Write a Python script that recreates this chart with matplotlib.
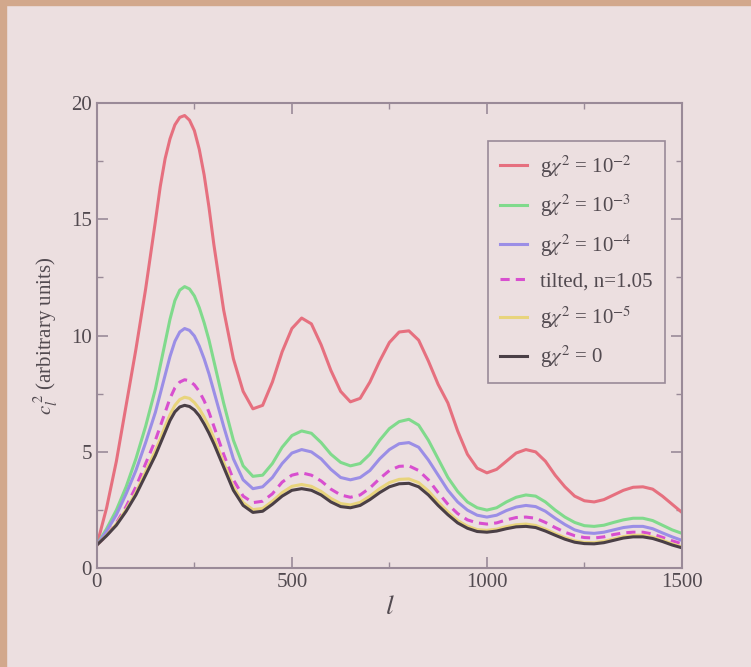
import matplotlib
matplotlib.use('Agg')
import matplotlib.pyplot as plt
from matplotlib.patches import Rectangle
from matplotlib.ticker import MultipleLocator

# multipole grid (finer around the first peak)
ell = ([0, 25, 50, 75, 100, 125, 150, 162.5, 175, 187.5, 200, 212.5, 225,
        237.5, 250, 262.5, 275, 287.5] + list(range(300, 1501, 25)))

# gchi^2 = 1e-2
red = [1.0, 2.6, 4.6, 7.0, 9.4, 12.0, 14.9, 16.4, 17.6, 18.45, 19.05, 19.37, 19.45,
       19.25, 18.8, 18.0, 16.9, 15.5,
       13.9, 11.1, 9.0, 7.6, 6.85, 7.0, 8.0, 9.3,
       10.3, 10.75, 10.5, 9.6, 8.5, 7.6, 7.15, 7.3, 8.0, 8.9,
       9.7, 10.15, 10.2, 9.8, 8.9, 7.9, 7.1, 5.9, 4.9, 4.3,
       4.1, 4.25, 4.6, 4.95, 5.1, 5.0, 4.6, 4.0, 3.5, 3.1,
       2.9, 2.85, 2.95, 3.15, 3.35, 3.48, 3.5, 3.4, 3.1, 2.75, 2.4]
# gchi^2 = 1e-3
green = [1.0, 1.7, 2.5, 3.5, 4.7, 6.1, 7.7, 8.7, 9.7, 10.7, 11.5, 11.95, 12.1,
         12.0, 11.7, 11.2, 10.55, 9.8,
         8.9, 7.1, 5.5, 4.4, 3.95, 4.0, 4.5, 5.2,
         5.7, 5.9, 5.8, 5.4, 4.9, 4.55, 4.4, 4.5, 4.9, 5.5,
         6.0, 6.3, 6.4, 6.15, 5.5, 4.7, 3.9, 3.3, 2.85, 2.6,
         2.5, 2.6, 2.85, 3.05, 3.15, 3.1, 2.85, 2.5, 2.2, 1.97,
         1.83, 1.8, 1.85, 1.97, 2.08, 2.15, 2.15, 2.05, 1.85, 1.65, 1.5]
# gchi^2 = 1e-4
blue = [1.0, 1.6, 2.3, 3.2, 4.2, 5.4, 6.7, 7.5, 8.3, 9.1, 9.75, 10.15, 10.3,
        10.22, 9.98, 9.55, 9.0, 8.35,
        7.6, 6.1, 4.7, 3.8, 3.42, 3.5, 3.9, 4.5,
        4.95, 5.1, 5.0, 4.7, 4.25, 3.9, 3.8, 3.9, 4.2, 4.7,
        5.1, 5.35, 5.4, 5.2, 4.65, 4.0, 3.35, 2.85, 2.5, 2.28,
        2.2, 2.28, 2.48, 2.63, 2.7, 2.65, 2.45, 2.15, 1.88, 1.65,
        1.53, 1.5, 1.55, 1.65, 1.75, 1.8, 1.8, 1.7, 1.52, 1.35, 1.2]
# tilted, n = 1.05
tilted = [1.0, 1.4, 1.95, 2.65, 3.5, 4.5, 5.5, 6.1, 6.7, 7.3, 7.75, 8.0, 8.1,
          8.05, 7.88, 7.6, 7.2, 6.7,
          6.1, 4.9, 3.8, 3.1, 2.82, 2.88, 3.2, 3.7,
          4.0, 4.1, 4.0, 3.75, 3.4, 3.15, 3.05, 3.15, 3.45, 3.85,
          4.2, 4.38, 4.4, 4.2, 3.8, 3.25, 2.75, 2.35, 2.08, 1.95,
          1.9, 1.95, 2.08, 2.18, 2.2, 2.15, 1.97, 1.75, 1.55, 1.4,
          1.32, 1.3, 1.35, 1.45, 1.52, 1.55, 1.55, 1.47, 1.33, 1.18, 1.05]
# gchi^2 = 1e-5
yellow = [1.0, 1.42, 1.9, 2.52, 3.25, 4.15, 5.05, 5.55, 6.1, 6.6, 7.0, 7.25, 7.35,
          7.3, 7.12, 6.85, 6.5, 6.08,
          5.6, 4.55, 3.5, 2.82, 2.52, 2.57, 2.88, 3.25,
          3.52, 3.6, 3.52, 3.3, 3.0, 2.78, 2.72, 2.83, 3.1, 3.42,
          3.68, 3.82, 3.84, 3.68, 3.32, 2.85, 2.42, 2.05, 1.81, 1.66,
          1.63, 1.68, 1.79, 1.87, 1.9, 1.84, 1.68, 1.49, 1.32, 1.18,
          1.11, 1.1, 1.16, 1.26, 1.36, 1.42, 1.42, 1.34, 1.21, 1.05, 0.92]
# gchi^2 = 0
black = [1.0, 1.4, 1.85, 2.45, 3.15, 4.0, 4.85, 5.35, 5.85, 6.35, 6.72, 6.93, 7.0,
         6.95, 6.8, 6.55, 6.2, 5.8,
         5.35, 4.35, 3.35, 2.7, 2.4, 2.45, 2.75, 3.1,
         3.35, 3.42, 3.35, 3.15, 2.85, 2.65, 2.6, 2.7, 2.95, 3.25,
         3.5, 3.63, 3.65, 3.5, 3.15, 2.7, 2.3, 1.95, 1.72, 1.58,
         1.55, 1.6, 1.7, 1.78, 1.8, 1.75, 1.6, 1.42, 1.25, 1.12,
         1.06, 1.05, 1.1, 1.2, 1.3, 1.35, 1.35, 1.28, 1.15, 1.0, 0.88]

labels = [r'g$\chi^2$ = 10$^{-2}$', r'g$\chi^2$ = 10$^{-3}$',
          r'g$\chi^2$ = 10$^{-4}$', 'tilted, n=1.05',
          r'g$\chi^2$ = 10$^{-5}$', r'g$\chi^2$ = 0']

plt.rcParams['font.family'] = ['Liberation Serif', 'DejaVu Serif']
plt.rcParams['mathtext.fontset'] = 'stix'

bg = '#ecdfe0'
ink = '#524a50'
spine = '#9a8a98'

fig = plt.figure(figsize=(7.51, 6.67), dpi=100, facecolor=bg)
fig.add_artist(Rectangle((0, 0.993), 1, 0.007, transform=fig.transFigure,
                         color='#d2a88c', zorder=0))
fig.add_artist(Rectangle((0, 0), 0.008, 1, transform=fig.transFigure,
                         color='#d2a88c', zorder=0))

ax = fig.add_axes([0.129, 0.148, 0.779, 0.698], facecolor=bg)

kw = dict(lw=2.2, solid_joinstyle='round', dash_joinstyle='round')
ax.plot(ell, red, color='#e6707f', label=labels[0], **kw)
ax.plot(ell, green, color='#80da8c', label=labels[1], **kw)
ax.plot(ell, blue, color='#9b8ee6', label=labels[2], **kw)
ax.plot(ell, tilted, color='#d84fcf', ls=(0, (3, 2)), label=labels[3], **kw)
ax.plot(ell, yellow, color='#e8d47c', label=labels[4], **kw)
ax.plot(ell, black, color='#4a3f46', label=labels[5], **kw)

ax.set_xlim(0, 1500)
ax.set_ylim(0, 20)
ax.xaxis.set_major_locator(MultipleLocator(500))
ax.xaxis.set_minor_locator(MultipleLocator(250))
ax.yaxis.set_major_locator(MultipleLocator(5))
ax.yaxis.set_minor_locator(MultipleLocator(2.5))
ax.tick_params(which='both', direction='in', top=True, right=True,
               colors=spine, labelcolor=ink, labelsize=15)
ax.tick_params(which='major', length=8, width=1.2)
ax.tick_params(which='minor', length=4, width=1)
for s in ax.spines.values():
    s.set_color(spine)
    s.set_linewidth(1.5)

ax.set_xlabel(r'$l$', fontsize=20, color=ink, labelpad=2)
ax.set_ylabel(r'$c_l^{\,2}$ (arbitrary units)', fontsize=15, color=ink, labelpad=8)

leg = ax.legend(loc='upper right', bbox_to_anchor=(0.971, 0.918), fontsize=15,
                frameon=True, fancybox=False, edgecolor=spine, facecolor=bg,
                framealpha=1, handlelength=1.3, labelspacing=0.62,
                borderpad=0.6, handletextpad=0.6, borderaxespad=0)
leg.get_frame().set_linewidth(1.2)
for t in leg.get_texts():
    t.set_color(ink)

fig.savefig('out.png', dpi=100, facecolor=bg)
